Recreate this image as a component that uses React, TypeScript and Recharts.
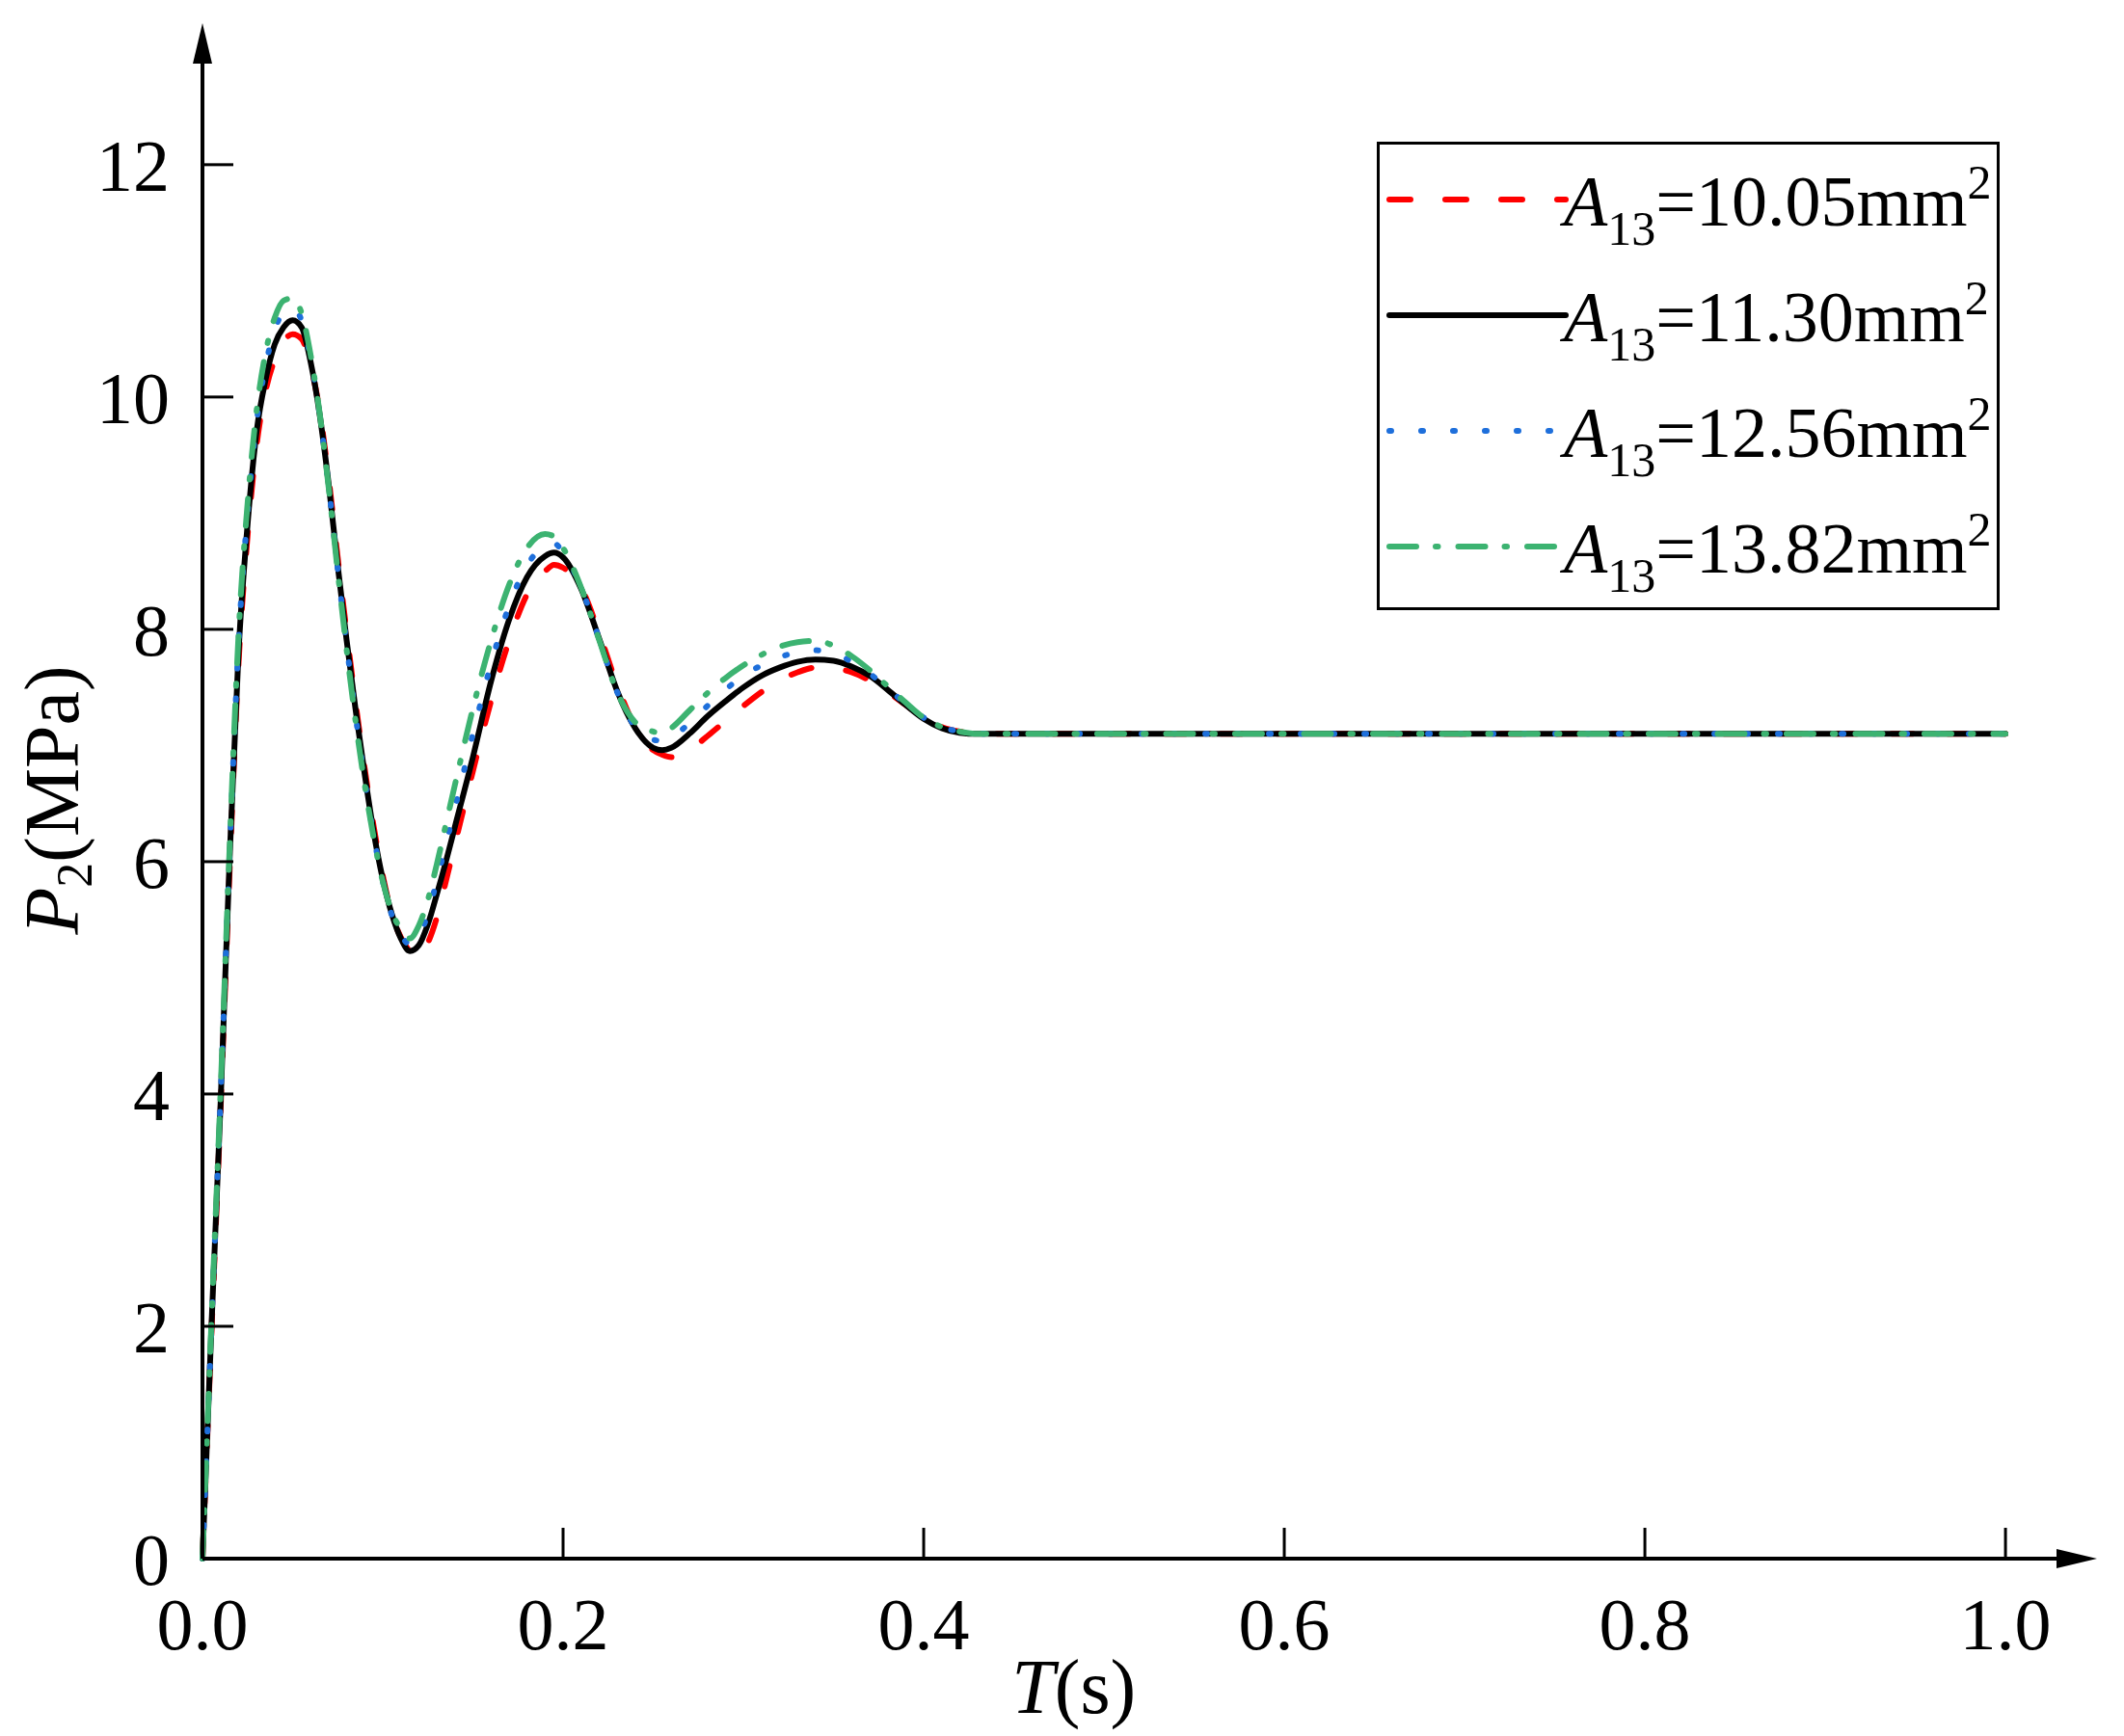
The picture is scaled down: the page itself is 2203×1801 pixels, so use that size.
import { LineChart, Line, XAxis, YAxis, Legend, ReferenceDot } from 'recharts';

// time (s)
const timeS = [
  0, 0.002, 0.005, 0.01, 0.015, 0.02, 0.025, 0.03, 0.035, 0.04, 0.045, 0.05, 0.055, 0.06, 0.065,
  0.07, 0.075, 0.08, 0.085, 0.09, 0.095, 0.1, 0.105, 0.11, 0.115, 0.12, 0.125, 0.13, 0.135, 0.14,
  0.15, 0.16, 0.17, 0.18, 0.19, 0.195, 0.2, 0.21, 0.22, 0.23, 0.24, 0.25, 0.255,
  0.26, 0.27, 0.28, 0.29, 0.3, 0.31, 0.32, 0.33, 0.34, 0.35, 0.36, 0.37, 0.38, 0.39, 0.4, 0.41,
  0.42, 0.43, 0.44, 0.45, 0.5, 0.6, 0.7, 0.8, 0.9, 1.0,
];

// P2 (MPa) for each orifice area A13
const p2A1005 = [
  0, 0.78, 1.95, 3.85, 5.9, 7.7, 8.8, 9.58, 10.05, 10.32, 10.48, 10.54, 10.5, 10.27, 9.88,
  9.3, 8.62, 7.97, 7.36, 6.8, 6.3, 5.88, 5.55, 5.35, 5.23, 5.18, 5.3, 5.52, 5.83, 6.15,
  6.78, 7.38, 7.9, 8.3, 8.5, 8.555, 8.53, 8.36, 7.97, 7.52, 7.16, 6.96, 6.92,
  6.9, 6.96, 7.08, 7.21, 7.34, 7.46, 7.56, 7.63, 7.67, 7.665, 7.63, 7.56, 7.46, 7.35, 7.24, 7.16,
  7.12, 7.1, 7.1, 7.1, 7.1, 7.1, 7.1, 7.1, 7.1, 7.1,
];
const p2A1130 = [
  0, 0.8, 2.0, 3.9, 6.0, 7.8, 8.9, 9.7, 10.15, 10.45, 10.6, 10.66, 10.6, 10.3, 9.85,
  9.25, 8.55, 7.9, 7.3, 6.75, 6.25, 5.85, 5.55, 5.34, 5.23, 5.28, 5.46, 5.72, 6.0, 6.3,
  6.9, 7.55, 8.08, 8.45, 8.63, 8.66, 8.62, 8.35, 7.92, 7.47, 7.15, 6.98, 6.96,
  6.98, 7.1, 7.25, 7.38, 7.5, 7.6, 7.67, 7.72, 7.74, 7.73, 7.68, 7.6, 7.48, 7.35, 7.23, 7.15,
  7.11, 7.1, 7.1, 7.1, 7.1, 7.1, 7.1, 7.1, 7.1, 7.1,
];
const p2A1256 = [
  0, 0.8, 2.0, 3.95, 6.05, 7.88, 9.0, 9.78, 10.27, 10.57, 10.73, 10.76, 10.66, 10.33, 9.85,
  9.23, 8.52, 7.86, 7.25, 6.7, 6.22, 5.83, 5.54, 5.37, 5.29, 5.36, 5.55, 5.84, 6.15, 6.46,
  7.1, 7.7, 8.2, 8.55, 8.72, 8.74, 8.66, 8.36, 7.92, 7.46, 7.16, 7.05, 7.04,
  7.07, 7.19, 7.34, 7.48, 7.6, 7.69, 7.76, 7.8, 7.82, 7.8, 7.72, 7.62, 7.49, 7.36, 7.24, 7.16,
  7.12, 7.1, 7.1, 7.1, 7.1, 7.1, 7.1, 7.1, 7.1, 7.1,
];
const p2A1382 = [
  0, 0.82, 2.05, 4.0, 6.1, 7.95, 9.08, 9.88, 10.38, 10.68, 10.83, 10.85, 10.72, 10.36, 9.86,
  9.22, 8.5, 7.82, 7.2, 6.66, 6.2, 5.83, 5.57, 5.42, 5.34, 5.45, 5.67, 5.98, 6.32, 6.66,
  7.32, 7.9, 8.38, 8.7, 8.82, 8.8, 8.7, 8.36, 7.91, 7.46, 7.2, 7.12, 7.105,
  7.15, 7.3, 7.45, 7.58, 7.69, 7.78, 7.85, 7.89, 7.9, 7.86, 7.77, 7.65, 7.51, 7.37, 7.24, 7.16,
  7.12, 7.1, 7.1, 7.1, 7.1, 7.1, 7.1, 7.1, 7.1, 7.1,
];

const seriesKeys = ['a1005', 'a1130', 'a1256', 'a1382'];
const seriesValues = [p2A1005, p2A1130, p2A1256, p2A1382];
const areaLabels = ['10.05', '11.30', '12.56', '13.82'];

const xTicks = [0, 0.2, 0.4, 0.6, 0.8, 1.0];
const yTicks = [0, 2, 4, 6, 8, 10, 12];

// styles
const lineStyles = [
  { color: '#FF0000', dash: '22 36' },
  { color: '#000000', dash: undefined },
  { color: '#1E6FDB', dash: '2 31' },
  { color: '#3CB371', dash: '28 20 2.5 21' },
];

const FONT = '"Liberation Serif", "Times New Roman", serif';
const X_MAX = 1.0283;
const Y_MAX = 12.87;

const data = timeS.map((t, i) => {
  const row: Record<string, number> = { t };
  seriesKeys.forEach((k, s) => {
    row[k] = seriesValues[s][i];
  });
  return row;
});

function renderLegend() {
  return (
    <svg width={646} height={486} style={{ display: 'block' }}>
      <rect x={1.5} y={1.5} width={643} height={483} fill="#fff" stroke="#000" strokeWidth={3} />
      {areaLabels.map((lab, i) => {
        const y = 60 + 120 * i;
        return (
          <g key={lab}>
            <line
              x1={13}
              x2={196}
              y1={y}
              y2={y}
              stroke={lineStyles[i].color}
              strokeWidth={6}
              strokeDasharray={lineStyles[i].dash}
              strokeLinecap="round"
            />
            <text x={194} y={y + 27} fontFamily={FONT} fontSize={74} fill="#000">
              <tspan fontStyle="italic">A</tspan>
              <tspan fontSize={50} dy={20}>13</tspan>
              <tspan dy={-20}>={lab}mm</tspan>
              <tspan fontSize={50} dy={-28}>2</tspan>
            </text>
          </g>
        );
      })}
    </svg>
  );
}

function renderXLabel(props: any) {
  const vb = props.viewBox;
  return (
    <text x={vb.x + vb.width * 0.47} y={vb.y + 160} textAnchor="middle" fontFamily={FONT} fontSize={80} fill="#000">
      <tspan fontStyle="italic">T</tspan>
      <tspan>(s)</tspan>
    </text>
  );
}

function renderYLabel(props: any) {
  const vb = props.viewBox;
  const x = vb.x + 81;
  const y = vb.y + vb.height * 0.4925;
  return (
    <text x={x} y={y} transform={`rotate(-90, ${x}, ${y})`} textAnchor="middle" fontFamily={FONT} fontSize={80} fill="#000">
      <tspan fontStyle="italic">P</tspan>
      <tspan fontSize={52} dy={14}>2</tspan>
      <tspan dy={-14}>(MPa)</tspan>
    </text>
  );
}

export default function App() {
  return (
    <div style={{ position: 'absolute', left: 0, top: 0, width: 2203, height: 1801, background: '#fff' }}>
      <LineChart width={2203} height={1801} data={data} margin={{ top: 66, right: 70, bottom: 0, left: 0 }}>
        <XAxis
          dataKey="t"
          type="number"
          domain={[0, X_MAX]}
          ticks={xTicks}
          interval={0}
          tickFormatter={(v: number) => v.toFixed(1)}
          height={184}
          tickSize={-32}
          tickMargin={72}
          axisLine={{ stroke: '#000', strokeWidth: 4 }}
          tickLine={{ stroke: '#000', strokeWidth: 3 }}
          tick={{ fill: '#000', fontSize: 76, fontFamily: FONT }}
          label={renderXLabel}
        />
        <YAxis
          type="number"
          domain={[0, Y_MAX]}
          ticks={yTicks}
          interval={0}
          width={210}
          tickSize={-32}
          tickMargin={66}
          axisLine={{ stroke: '#000', strokeWidth: 4 }}
          tickLine={{ stroke: '#000', strokeWidth: 3 }}
          tick={{ fill: '#000', fontSize: 76, fontFamily: FONT }}
          label={renderYLabel}
        />
        {seriesKeys.map((k, i) => (
          <Line
            key={k}
            dataKey={k}
            name={`A13=${areaLabels[i]}mm2`}
            type="monotone"
            stroke={lineStyles[i].color}
            strokeWidth={6}
            strokeDasharray={lineStyles[i].dash}
            strokeLinecap="round"
            strokeLinejoin="round"
            dot={false}
            activeDot={false}
            isAnimationActive={false}
          />
        ))}
        <ReferenceDot
          x={X_MAX}
          y={0}
          ifOverflow="visible"
          shape={(p: any) => <path d={`M${p.cx},${p.cy - 10} L${p.cx + 42},${p.cy} L${p.cx},${p.cy + 10} Z`} fill="#000" />}
        />
        <ReferenceDot
          x={0}
          y={Y_MAX}
          ifOverflow="visible"
          shape={(p: any) => <path d={`M${p.cx - 10},${p.cy} L${p.cx},${p.cy - 42} L${p.cx + 10},${p.cy} Z`} fill="#000" />}
        />
        <Legend
          layout="vertical"
          verticalAlign="middle"
          align="center"
          wrapperStyle={{ position: 'absolute', left: 1428, top: 147, width: 646, height: 486 }}
          content={renderLegend}
        />
      </LineChart>
    </div>
  );
}
